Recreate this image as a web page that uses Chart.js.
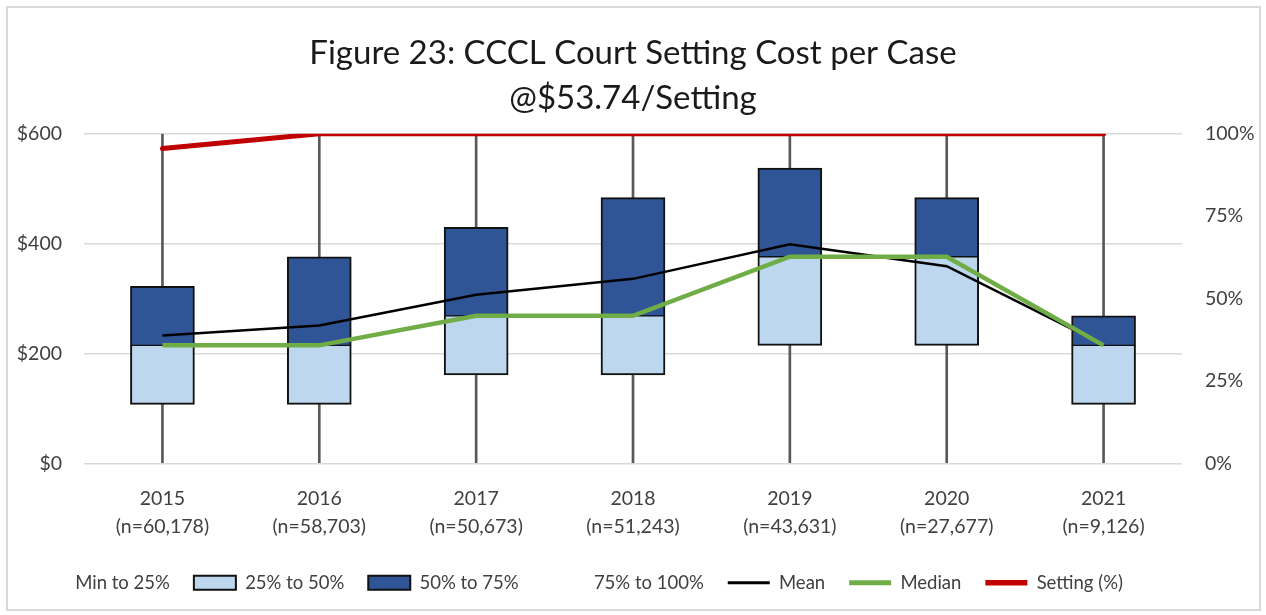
<!DOCTYPE html>
<html>
<head>
<meta charset="utf-8">
<title>CCCL Court Setting Cost per Case</title>
<script src="https://cdn.jsdelivr.net/npm/chart.js@4.4.1/dist/chart.umd.min.js"></script>
<style>
  html, body { margin: 0; padding: 0; background: #fff; }
  #wrap { position: relative; width: 1266px; height: 615px; }
  #frame { position: absolute; left: 6px; top: 6px; width: 1251px; height: 601px; border: 2px solid #d9d9d9; pointer-events: none; }
  canvas { position: absolute; left: 0; top: 0; }
</style>
</head>
<body>
<div id="wrap">
  <canvas id="boxchart" width="1266" height="615"></canvas>
  <div id="frame"></div>
</div>
<script>
'use strict';

const years = ['2015', '2016', '2017', '2018', '2019', '2020', '2021'];
const caseCounts = ['(n=60,178)', '(n=58,703)', '(n=50,673)', '(n=51,243)', '(n=43,631)', '(n=27,677)', '(n=9,126)'];

// quartiles (cost in $)
const whiskerLow = [0, 0, 0, 0, 0, 0, 0];
const q1 = [107.5, 107.5, 161.2, 161.2, 215.0, 215.0, 107.5];
const median = [215.0, 215.0, 268.7, 268.7, 376.2, 376.2, 215.0];
const q3 = [322.4, 376.2, 429.9, 483.7, 537.4, 483.7, 268.7];
const whiskerHigh = [600, 600, 600, 600, 600, 600, 600];

const mean = [233, 251, 307, 336, 399, 359, 216];
const settingPct = [0.955, 1, 1, 1, 1, 1, 1];

const textColor = '#404040';
const baseFont = 'Lato, Calibri, "Open Sans", sans-serif';

(() => {
  const labels = years.map((y, i) => [y, caseCounts[i]]);
  const span = (lo, hi) => lo.map((v, i) => [v, hi[i]]);

  const whiskerStyle = {
    type: 'bar',
    backgroundColor: '#595959',
    borderWidth: 0,
    barThickness: 2,
    grouped: false,
    noLegendMarker: true
  };
  const boxStyle = {
    type: 'bar',
    borderColor: '#111111',
    borderSkipped: false,
    barThickness: 64,
    grouped: false
  };

  const datasets = [
    Object.assign({ label: 'Min to 25%', data: span(whiskerLow, q1), order: 9 }, whiskerStyle),
    Object.assign({ label: '25% to 50%', data: span(q1, median), backgroundColor: '#bdd7ee',
      borderWidth: { left: 2, right: 2, bottom: 2, top: 1 }, order: 5 }, boxStyle),
    Object.assign({ label: '50% to 75%', data: span(median, q3), backgroundColor: '#2f5597',
      borderWidth: { left: 2, right: 2, top: 2, bottom: 1 }, order: 5 }, boxStyle),
    Object.assign({ label: '75% to 100%', data: span(q3, whiskerHigh), order: 9 }, whiskerStyle),
    { type: 'line', label: 'Mean', data: mean, borderColor: '#000000', borderWidth: 2.5,
      pointRadius: 0, tension: 0, order: 3 },
    { type: 'line', label: 'Median', data: median, borderColor: '#70ad47', borderWidth: 4.5,
      pointRadius: 0, tension: 0, order: 2 },
    { type: 'line', label: 'Setting (%)', data: settingPct, borderColor: '#c00000', borderWidth: 5,
      pointRadius: 0, tension: 0, borderCapStyle: 'round', yAxisID: 'y1', order: 1 }
  ];

  const legendLabels = (chart) => {
    const items = Chart.defaults.plugins.legend.labels.generateLabels(chart);
    return items.map(it => {
      const ds = chart.data.datasets[it.datasetIndex];
      if (ds.type === 'line') {
        it.pointStyle = 'line';
        it.strokeStyle = ds.borderColor;
        it.lineWidth = ds.borderWidth + 0.5;
      } else {
        it.pointStyle = 'rect';
        it.lineWidth = 2;
        it.strokeStyle = '#111111';
      }
      if (ds.noLegendMarker) {
        it.fillStyle = 'rgba(0,0,0,0)';
        it.strokeStyle = 'rgba(0,0,0,0)';
        it.lineWidth = 0;
      }
      return it;
    });
  };

  const tickFont = { family: baseFont, size: 19.5, lineHeight: 1.45 };

  const ctx = document.getElementById('boxchart');
  const myChart = new Chart(ctx, {
    type: 'bar',
    data: { labels: labels, datasets: datasets },
    options: {
      responsive: false,
      animation: false,
      layout: { padding: { left: 0, right: 0, top: 0, bottom: 13 } },
      plugins: {
        title: {
          display: true,
          text: ['Figure 23: CCCL Court Setting Cost per Case', '@$53.74/Setting'],
          color: '#1a1a1a',
          font: { family: baseFont, size: 33, weight: 'normal', lineHeight: 1.36 },
          padding: { top: 31, bottom: 13 }
        },
        legend: {
          position: 'bottom',
          align: 'start',
          labels: {
            usePointStyle: true,
            pointStyleWidth: 42,
            boxHeight: 14,
            padding: 24,
            color: textColor,
            font: { family: baseFont, size: 18.5 },
            generateLabels: legendLabels,
            sort: (a, b) => a.datasetIndex - b.datasetIndex
          }
        },
        tooltip: { enabled: false }
      },
      scales: {
        x: {
          grid: { display: false },
          border: { display: false },
          ticks: { color: textColor, font: tickFont, padding: 13, maxRotation: 0 },
          afterFit: (scale) => { scale.height = 86; }
        },
        y: {
          min: 0,
          max: 600,
          grid: { color: '#d9d9d9', lineWidth: 1.5, drawTicks: false },
          border: { display: false },
          ticks: {
            stepSize: 200,
            padding: 22,
            color: textColor,
            font: tickFont,
            callback: (v) => '$' + v
          },
          afterFit: (scale) => { scale.width = 84; }
        },
        y1: {
          position: 'right',
          min: 0,
          max: 1,
          grid: { display: false, drawTicks: false },
          border: { display: false },
          ticks: {
            stepSize: 0.25,
            padding: 23,
            color: textColor,
            font: tickFont,
            callback: (v) => Math.round(v * 100) + '%'
          },
          afterFit: (scale) => { scale.width = 84; }
        }
      }
    }
  });
})();
</script>
</body>
</html>
